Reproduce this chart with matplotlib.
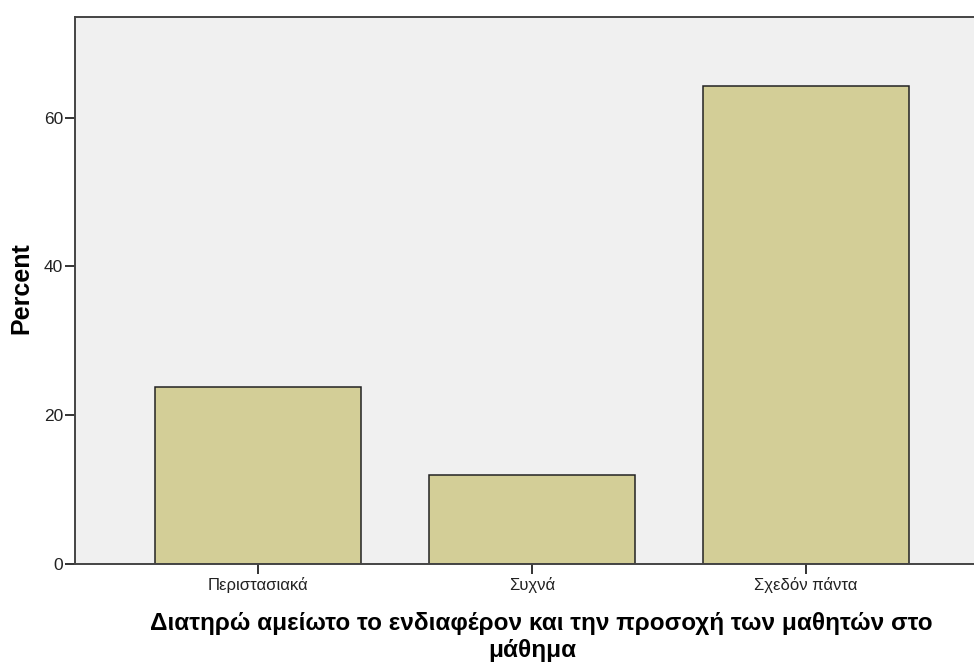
import matplotlib
matplotlib.use("Agg")
import matplotlib.pyplot as plt

categories = ["Περιστασιακά", "Συχνά", "Σχεδόν πάντα"]
percents = [23.8, 11.9, 64.3]
yticks = [0, 20, 40, 60]
xlabel_lines = ["Διατηρώ αμείωτο το ενδιαφέρον και την προσοχή των μαθητών στο", "μάθημα"]

plt.rcParams['font.family'] = ['Liberation Sans', 'DejaVu Sans']

W, H = 974, 666
fig = plt.figure(figsize=(W / 100, H / 100), dpi=100)
ax = fig.add_axes([75 / W, (H - 563.5) / H, 1 - 75 / W, (563.5 - 17) / H])
ax.set_facecolor('#F0F0F0')

x = list(range(len(categories)))
ax.bar(x, percents, width=0.752, color='#D3CE97', edgecolor='#222222', linewidth=1.1, zorder=2)

ax.set_xlim(-0.668, 2.613)
ax.set_ylim(0, 73.6)
ax.set_xticks(x)
ax.set_xticklabels(categories, fontsize=12, color='#222222')
ax.set_yticks(yticks)
ax.set_yticklabels([str(t) for t in yticks], fontsize=12.5, color='#222222')
ax.tick_params(axis='both', direction='out', length=7.5, width=1.4, color='#333333')
ax.tick_params(axis='x', pad=2)
ax.tick_params(axis='y', pad=1)

for s in ['left', 'bottom', 'top']:
    ax.spines[s].set_color('#444444')
    ax.spines[s].set_linewidth(1.4)
ax.spines['right'].set_visible(False)

fig.text(21.5 / W, (H - 288) / H, 'Percent', rotation=90, ha='center', va='center',
         fontsize=18, fontweight='bold')
fig.text(541.5 / W, (H - 630) / H, xlabel_lines[0], ha='center', va='baseline',
         fontsize=17.5, fontweight='bold')
fig.text(532 / W, (H - 657) / H, xlabel_lines[1], ha='center', va='baseline',
         fontsize=17.5, fontweight='bold')

fig.savefig('out.png', dpi=100)
